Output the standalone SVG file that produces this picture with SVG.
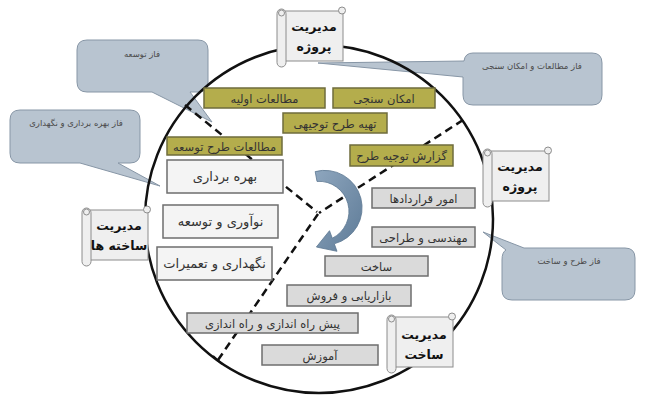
<svg xmlns="http://www.w3.org/2000/svg" width="645" height="400" viewBox="0 0 645 400">
<style>
.callout{fill:#b8c4d0;stroke:#8796a6;stroke-width:1}
.ct{font-family:"DejaVu Sans",sans-serif;font-size:8.5px;fill:#4a4a4a;text-anchor:middle}
.olive{fill:#b4ad4c;stroke:#6f6c3c;stroke-width:1.5}
.white{fill:#f4f4f4;stroke:#6e6e6e;stroke-width:1.5}
.grey{fill:#dadada;stroke:#6e6e6e;stroke-width:1.5}
.t{font-family:"DejaVu Sans",sans-serif;fill:#333;text-anchor:middle}
.ts{font-size:11.5px}
.tl{font-size:13px}
.sc{fill:#efefef;stroke:#8c8c8c;stroke-width:1}
.st{font-family:"DejaVu Sans",sans-serif;font-size:12.5px;font-weight:bold;fill:#111;text-anchor:middle}
.dash{fill:none;stroke:#111;stroke-width:2.5;stroke-dasharray:8 5}
</style>
<defs>
<linearGradient id="ag" x1="0" y1="0" x2="1" y2="1">
<stop offset="0" stop-color="#8ea6be"/>
<stop offset="1" stop-color="#5e7b97"/>
</linearGradient>
<g id="scroll">
<rect class="sc" x="6" y="4" width="60" height="50"/>
<rect class="sc" x="0" y="2" width="9" height="58" rx="4.5"/>
<circle class="sc" cx="4.5" cy="6" r="3"/>
<circle class="sc" cx="65" cy="3.5" r="3.5"/>
</g>
</defs>
<rect width="645" height="400" fill="#ffffff"/>

<g id="callout-tosee">
<path class="callout" d="M87,40 H198 Q208,40 208,50 V82 Q208,92 198,92 H190 L212,122 L152,92 H87 Q77,92 77,82 V50 Q77,40 87,40 Z"/>
<text class="ct" x="142" y="57">فاز توسعه</text>
</g>
<g id="callout-bahrebardari">
<path class="callout" d="M20,110 H130 Q140,110 140,120 V153 Q140,163 130,163 H118 L160,186 L80,163 H20 Q10,163 10,153 V120 Q10,110 20,110 Z"/>
<text class="ct" x="76" y="126">فاز بهره برداری و نگهداری</text>
</g>
<g id="callout-motaleat">
<path class="callout" d="M473,53 H592 Q602,53 602,63 V95 Q602,105 592,105 H473 Q463,105 463,95 V77 L318,63 L464,61 Q465,53 473,53 Z"/>
<text class="ct" x="532" y="69">فاز مطالعات و امکان سنجی</text>
</g>
<g id="callout-tarh">
<path class="callout" d="M524,248 H625 Q635,248 635,258 V290 Q635,300 625,300 H512 Q502,300 502,290 V260 Q502,252 506,250 L483,232 Z"/>
<text class="ct" x="569" y="264">فاز طرح و ساخت</text>
</g>

<circle id="cycle" cx="319" cy="219" r="174" fill="none" stroke="#111" stroke-width="2.5"/>

<g id="connectors">
<line class="dash" x1="185" y1="105" x2="317" y2="212"/>
<line class="dash" x1="463" y1="120" x2="319" y2="213"/>
<line class="dash" x1="318" y1="214" x2="218" y2="360"/>
<line x1="213" y1="356" x2="222" y2="364" stroke="#111" stroke-width="2"/>
<path id="cycle-arrow" d="M315.2,171.6 A37 37 0 0 1 334.3,243.8 L337,251.3 L316.4,247 L329.5,230.7 L332.3,238.2 A30 30 0 0 0 317,181.4 Z" fill="url(#ag)" stroke="#5a7690" stroke-width="0.8"/>
</g>

<g id="box-motaleat-avalie"><rect class="olive" x="204" y="88" width="121" height="20"/><text class="t ts" x="264.5" y="102.5">مطالعات اولیه</text></g>
<g id="box-emkan-sanji"><rect class="olive" x="333" y="88" width="102" height="20"/><text class="t ts" x="384" y="102.5">امکان سنجی</text></g>
<g id="box-tahie-tarh"><rect class="olive" x="283" y="113" width="104" height="20"/><text class="t ts" x="335" y="127.5">تهیه طرح توجیهی</text></g>
<g id="box-motaleat-tarh-tosee"><rect class="olive" x="167" y="137" width="115" height="18"/><text class="t ts" x="224.5" y="150.5">مطالعات طرح توسعه</text></g>
<g id="box-gozaresh"><rect class="olive" x="350" y="145" width="103" height="21"/><text class="t ts" x="401.5" y="160">گزارش توجیه طرح</text></g>

<g id="box-bahrebardari"><rect class="white" x="167" y="160" width="116" height="33"/><text class="t tl" x="225" y="181">بهره برداری</text></g>
<g id="box-noavari"><rect class="white" x="163" y="205" width="115" height="33"/><text class="t tl" x="220.5" y="226">نوآوری و توسعه</text></g>
<g id="box-negahdari"><rect class="white" x="157" y="247" width="115" height="33"/><text class="t tl" x="214.5" y="268">نگهداری و تعمیرات</text></g>

<g id="box-omur"><rect class="grey" x="372" y="188" width="103" height="20"/><text class="t ts" x="423.5" y="202.5">امور قراردادها</text></g>
<g id="box-mohandesi"><rect class="grey" x="372" y="227" width="103" height="20"/><text class="t ts" x="423.5" y="241.5">مهندسی و طراحی</text></g>
<g id="box-sakht"><rect class="grey" x="325" y="256" width="103" height="20"/><text class="t ts" x="376.5" y="270.5">ساخت</text></g>
<g id="box-bazaryabi"><rect class="grey" x="287" y="285" width="124" height="21"/><text class="t ts" x="349" y="300">بازاریابی و فروش</text></g>
<g id="box-rahandazi"><rect class="grey" x="187" y="313" width="171" height="20"/><text class="t ts" x="272.5" y="327.5">پیش راه اندازی و راه اندازی</text></g>
<g id="box-amuzesh"><rect class="grey" x="262" y="345" width="116" height="20"/><text class="t ts" x="320" y="359.5">آموزش</text></g>

<g id="scroll-top" transform="translate(277,7)"><use href="#scroll"/><text class="st" x="37" y="24">مدیریت</text><text class="st" x="37" y="44">پروژه</text></g>
<g id="scroll-right" transform="translate(483,147)"><use href="#scroll"/><text class="st" x="37" y="24">مدیریت</text><text class="st" x="37" y="44">پروژه</text></g>
<g id="scroll-left" transform="translate(82,206)"><use href="#scroll"/><text class="st" x="37" y="24">مدیریت</text><text class="st" x="37" y="44">ساخته ها</text></g>
<g id="scroll-bottom" transform="translate(387,313)"><use href="#scroll"/><text class="st" x="37" y="26">مدیریت</text><text class="st" x="37" y="46">ساخت</text></g>
</svg>
